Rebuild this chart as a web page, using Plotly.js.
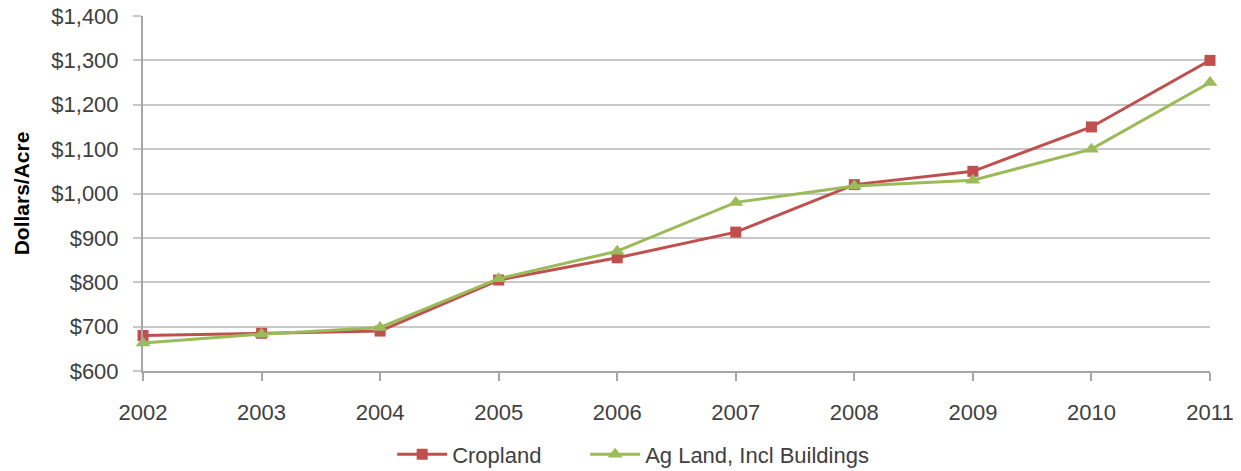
<!DOCTYPE html>
<html>
<head>
<meta charset="utf-8">
<script src="https://cdn.plot.ly/plotly-3.0.1.min.js"></script>
<style>
html,body{margin:0;padding:0;background:#fff;}
#chart{width:1241px;height:471px;}
</style>
</head>
<body>
<div id="chart"></div>
<script>
const years = [2002, 2003, 2004, 2005, 2006, 2007, 2008, 2009, 2010, 2011];
const cropland = [680, 685, 690, 805, 855, 913, 1020, 1050, 1150, 1300];
const agLand = [663, 683, 698, 808, 870, 980, 1017, 1030, 1100, 1250];
const yTickVals = [600, 700, 800, 900, 1000, 1100, 1200, 1300, 1400];
const yTickText = ['$600', '$700', '$800', '$900', '$1,000', '$1,100', '$1,200', '$1,300', '$1,400'];

const font = 'Liberation Sans, Arial, sans-serif';
const traces = [
  {
    x: years, y: cropland, name: 'Cropland', type: 'scatter', mode: 'lines+markers',
    line: {color: '#C0504D', width: 3}, cliponaxis: false, legend: 'legend',
    marker: {symbol: 'square', size: 11, color: '#C0504D'}
  },
  {
    x: years, y: agLand, name: 'Ag Land, Incl Buildings', type: 'scatter', mode: 'lines+markers',
    line: {color: '#9BBB59', width: 3}, cliponaxis: false, legend: 'legend2',
    marker: {symbol: 'triangle-up', size: 13, color: '#9BBB59'}
  }
];

const legendBase = {
  orientation: 'h', xref: 'container', yref: 'container',
  xanchor: 'left', y: 0.035, yanchor: 'middle', itemwidth: 50,
  font: {family: font, size: 22, color: '#404040'}
};

const layout = {
  width: 1241, height: 471,
  margin: {l: 143, r: 31, t: 16, b: 100, autoexpand: false},
  paper_bgcolor: '#fff', plot_bgcolor: '#fff',
  font: {family: font, size: 22, color: '#404040'},
  showlegend: true,
  legend: Object.assign({}, legendBase, {x: 0.316}),
  legend2: Object.assign({}, legendBase, {x: 0.4715}),
  xaxis: {
    range: [2002, 2011], tickvals: years, ticktext: years.map(String),
    showgrid: false, zeroline: false,
    showline: true, linecolor: '#A6A6A6', linewidth: 2,
    ticks: 'outside', ticklen: 8, tickwidth: 2, tickcolor: '#A6A6A6',
    ticklabelstandoff: 13,
    tickfont: {family: font, size: 22, color: '#404040'}
  },
  yaxis: {
    range: [600, 1400], tickvals: yTickVals, ticktext: yTickText,
    showgrid: true, gridcolor: '#C8C8C8', gridwidth: 2, zeroline: false,
    showline: true, linecolor: '#A6A6A6', linewidth: 2,
    ticks: 'outside', ticklen: 8, tickwidth: 2, tickcolor: '#C8C8C8',
    ticklabelstandoff: 10,
    tickfont: {family: font, size: 22, color: '#404040'},
    title: {text: '<b>Dollars/Acre</b>', font: {family: font, size: 21, color: '#000'}, standoff: 16}
  }
};

Plotly.newPlot('chart', traces, layout, {displayModeBar: false, staticPlot: true});
</script>
</body>
</html>
